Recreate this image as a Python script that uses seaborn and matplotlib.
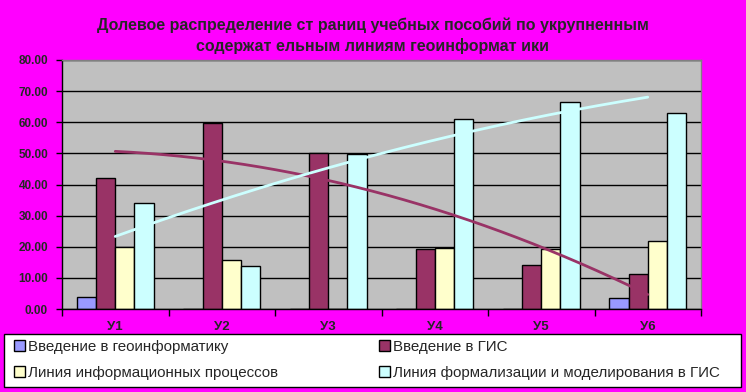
import numpy as np
import pandas as pd
import matplotlib
matplotlib.use("Agg")
import matplotlib.pyplot as plt
from matplotlib.patches import Rectangle
from matplotlib.ticker import FormatStrFormatter, MultipleLocator
import seaborn as sns

# Values
categories = ["У1", "У2", "У3", "У4", "У5", "У6"]
series_names = [
    "Введение в геоинформатику",
    "Введение в ГИС",
    "Линия информационных процессов",
    "Линия формализации и моделирования в ГИС",
]
intro_geo = [3.8, 0.0, 0.0, 0.0, 0.0, 3.4]
intro_gis = [42.0, 59.7, 50.0, 19.2, 14.0, 11.2]
info_proc = [20.0, 15.9, 0.0, 19.5, 19.2, 21.8]
formal_model = [34.0, 13.9, 49.7, 61.0, 66.4, 62.9]
colors = ["#9999FF", "#993366", "#FFFFCC", "#CCFFFF"]
title = ("Долевое распределение ст раниц учебных пособий по укрупненным\n"
         "содержат ельным линиям геоинформат ики")

series_values = [intro_geo, intro_gis, info_proc, formal_model]
df = pd.DataFrame({
    "cat": np.tile(categories, len(series_names)),
    "val": np.concatenate(series_values),
    "series": np.repeat(series_names, len(categories)),
})

sns.set_style("white")
plt.rcParams["font.family"] = ["Liberation Sans", "DejaVu Sans"]

fig = plt.figure(figsize=(7.46, 3.92), dpi=100, facecolor="#FF00FF")
ax = fig.add_axes([62 / 746, 1 - 309 / 392, 639 / 746, 249 / 392])
ax.set_facecolor("#C0C0C0")

sns.barplot(data=df, x="cat", y="val", hue="series", palette=colors,
            edgecolor="black", linewidth=1, width=0.72, saturation=1,
            errorbar=None, ax=ax, zorder=2)

# polynomial (order 2) trendlines like Excel
xpos = np.arange(len(categories))
xs = np.linspace(0, len(categories) - 1, 200)
for vals, col in [(intro_gis, "#993366"), (formal_model, "#CCFFFF")]:
    coef = np.polyfit(xpos, vals, 2)
    ax.plot(xs, np.polyval(coef, xs), color=col, lw=2, zorder=3)

ax.set_xlim(-0.5, len(categories) - 0.5)
ax.set_ylim(0, 80)
ax.yaxis.set_major_locator(MultipleLocator(10))
ax.yaxis.set_major_formatter(FormatStrFormatter("%.2f"))
ax.grid(axis="y", color="black", lw=1)
ax.set_axisbelow(True)
ax.set_xlabel("")
ax.set_ylabel("")

ax.set_xticks(np.arange(-0.5, len(categories)), minor=True)
ax.tick_params(axis="x", which="major", length=0, pad=9, labelsize=9.5)
ax.tick_params(axis="x", which="minor", length=5, width=1, color="black", direction="out")
ax.tick_params(axis="y", length=4, width=1, color="black", direction="out", pad=6, labelsize=8.5)
ax.tick_params(left=True, bottom=True, which="both")
for lab in ax.get_xticklabels() + ax.get_yticklabels():
    lab.set_fontweight("bold")

for side in ["left", "bottom"]:
    ax.spines[side].set_color("black")
    ax.spines[side].set_linewidth(1)
for side in ["top", "right"]:
    ax.spines[side].set_color("#808080")
    ax.spines[side].set_linewidth(1)

# legend box drawn separately, entries fill row by row
fig.patches.append(Rectangle((4 / 746, 1 - 387 / 392), 737 / 746, 53 / 392,
                             transform=fig.transFigure, facecolor="white",
                             edgecolor="black", lw=1, zorder=0))
handles, labels = ax.get_legend_handles_labels()
ax.get_legend().remove()
order = [0, 2, 1, 3]
leg = fig.legend([handles[i] for i in order], [labels[i] for i in order],
                 loc="upper left", ncol=2, frameon=False,
                 bbox_to_anchor=(14 / 746, 1 - 340 / 392),
                 borderaxespad=0, borderpad=0, fontsize=10.9,
                 handlelength=0.75, handleheight=0.75, handletextpad=0.15,
                 labelspacing=0.8, columnspacing=6.7)

fig.suptitle(title, x=373 / 746, y=1 - 35.5 / 392, va="center",
             fontsize=11.5, fontweight="bold", linespacing=1.4)

fig.savefig("out.png", dpi=100, facecolor=fig.get_facecolor())
